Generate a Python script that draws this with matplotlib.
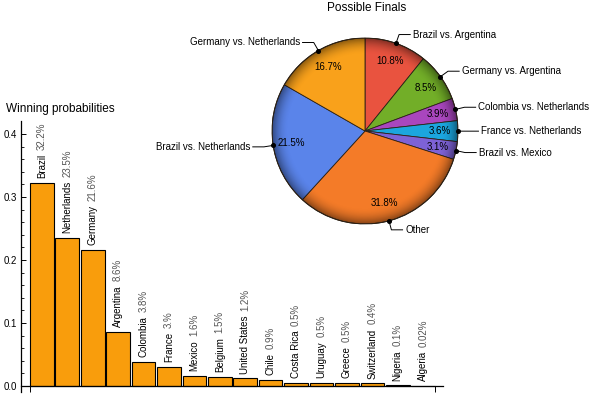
import numpy as np
import matplotlib
matplotlib.use('Agg')
import matplotlib.pyplot as plt
from matplotlib.patches import Circle

plt.rcParams['font.family'] = ['Liberation Sans', 'DejaVu Sans']

# ---- data: winning probabilities ----
countries = ["Brazil", "Netherlands", "Germany", "Argentina", "Colombia", "France",
             "Mexico", "Belgium", "United States", "Chile", "Costa Rica", "Uruguay",
             "Greece", "Switzerland", "Nigeria", "Algeria"]
win_prob = [0.322, 0.235, 0.216, 0.086, 0.038, 0.030, 0.016, 0.015, 0.012, 0.009,
            0.005, 0.005, 0.005, 0.004, 0.001, 0.0002]
win_pct_labels = ["32.2%", "23.5%", "21.6%", "8.6%", "3.8%", "3.%", "1.6%", "1.5%",
                  "1.2%", "0.9%", "0.5%", "0.5%", "0.5%", "0.4%", "0.1%", "0.02%"]

# ---- data: possible finals ----
finals = ["Brazil vs. Argentina", "Germany vs. Argentina", "Colombia vs. Netherlands",
          "France vs. Netherlands", "Brazil vs. Mexico", "Other",
          "Brazil vs. Netherlands", "Germany vs. Netherlands"]
finals_pct = [10.8, 8.5, 3.9, 3.6, 3.1, 31.8, 21.5, 16.7]
finals_colors = ["#E9533F", "#72AE28", "#A946BE", "#1BA6DE", "#7D62D6", "#F47B28",
                 "#5A84EA", "#F9A11B"]

W, H = 600, 400
fig = plt.figure(figsize=(6, 4), dpi=100)

# ================= bar chart =================
bx0, bx1, by_top, by_bot = 21, 443, 121, 392
ax = fig.add_axes([bx0 / W, 1 - by_bot / H, (bx1 - bx0) / W, (by_bot - by_top) / H])
xs = np.arange(len(countries))
bw = 0.93
ax.bar(xs, win_prob, width=bw, color="#F99D0C", edgecolor="black", linewidth=0.8, zorder=2)
ax.set_xlim(-0.82, 15.78)
ax.set_ylim(-0.0095, 0.4206)
for s in ["top", "right"]:
    ax.spines[s].set_visible(False)
ax.spines["bottom"].set_position(("data", 0))
ax.spines["bottom"].set_linewidth(0.9)
ax.spines["left"].set_linewidth(0.9)
ax.set_yticks([0.0, 0.1, 0.2, 0.3, 0.4])
ax.set_yticklabels(["0.0", "0.1", "0.2", "0.3", "0.4"])
ax.set_yticks(np.arange(0, 0.42, 0.02), minor=True)
ax.tick_params(axis="y", which="major", direction="in", length=3.5, width=0.7,
               labelsize=7, pad=3)
ax.tick_params(axis="y", which="minor", direction="in", length=2, width=0.6)
ax.set_xticks([-bw / 2, xs[-1] + bw / 2])
ax.set_xticklabels(["", ""])
ax.tick_params(axis="x", which="major", direction="out", length=4.5, width=0.7)

for x, v, name, pl in zip(xs, win_prob, countries, win_pct_labels):
    t = ax.annotate(name, xy=(x, v), xytext=(0, 3.5), textcoords="offset points",
                    rotation=90, ha="center", va="bottom", fontsize=7, color="black")
    ax.annotate(pl, xy=(0.5, 1.0), xycoords=t, xytext=(0, 3), textcoords="offset points",
                rotation=90, ha="center", va="bottom", fontsize=7, color="#555555")

fig.text(6 / W, 1 - 109 / H, "Winning probabilities", fontsize=8.5, ha="left", va="center")

# ================= pie chart =================
cx, cy, R = 365, 131, 93
pax = fig.add_axes([(cx - R) / W, 1 - (cy + R) / H, 2 * R / W, 2 * R / H])
wedges, _ = pax.pie(finals_pct, startangle=90, counterclock=False, colors=finals_colors,
                    radius=1.0, wedgeprops=dict(edgecolor="#2b2015", linewidth=0.6))
pax.set_xlim(-1, 1)
pax.set_ylim(-1, 1)
pax.set_aspect("auto")
pax.set_axis_off()

# rim shading to mimic the 3D look
n = 400
yy, xx = np.mgrid[-1:1:n * 1j, -1:1:n * 1j]
rr = np.hypot(xx, yy)
shade = np.zeros((n, n, 4))
shade[..., 3] = np.clip((rr - 0.82) / 0.18, 0, 1) ** 2 * 0.45
im = pax.imshow(shade, extent=(-1, 1, -1, 1), origin="lower", zorder=3,
                interpolation="bilinear")
circ = Circle((0, 0), 1.0, transform=pax.transData)
im.set_clip_path(circ)
pax.add_patch(Circle((0, 0), 1.0, fill=False, edgecolor="#2b2015", linewidth=0.7, zorder=4))
pax.set_xlim(-1, 1)
pax.set_ylim(-1, 1)

total = sum(finals_pct)
cum = 0.0
for name, p in zip(finals, finals_pct):
    mid = 90 - (cum + p / 2) / total * 360
    cum += p
    a = np.deg2rad(mid)
    ca, sa = np.cos(a), np.sin(a)
    # percentage inside
    pax.text(0.8 * ca, 0.8 * sa, f"{p:.1f}%", ha="center", va="center", fontsize=7,
             color="black", zorder=5)
    # leader line
    bxp, byp = 1.1 * ca, 1.1 * sa
    sgn = 1 if ca >= 0 else -1
    ex = bxp + sgn * 0.12
    pax.plot([ca, bxp, ex], [sa, byp, byp], color="black", lw=0.7, clip_on=False, zorder=5)
    pax.plot([ca], [sa], "o", ms=2.6, color="black", clip_on=False, zorder=6)
    pax.text(ex + sgn * 0.03, byp, name, ha="left" if sgn > 0 else "right", va="center",
             fontsize=7, clip_on=False, zorder=6)

fig.text(367 / W, 1 - 8 / H, "Possible Finals", fontsize=8.5, ha="center", va="center")

fig.savefig("out.png", dpi=100)
